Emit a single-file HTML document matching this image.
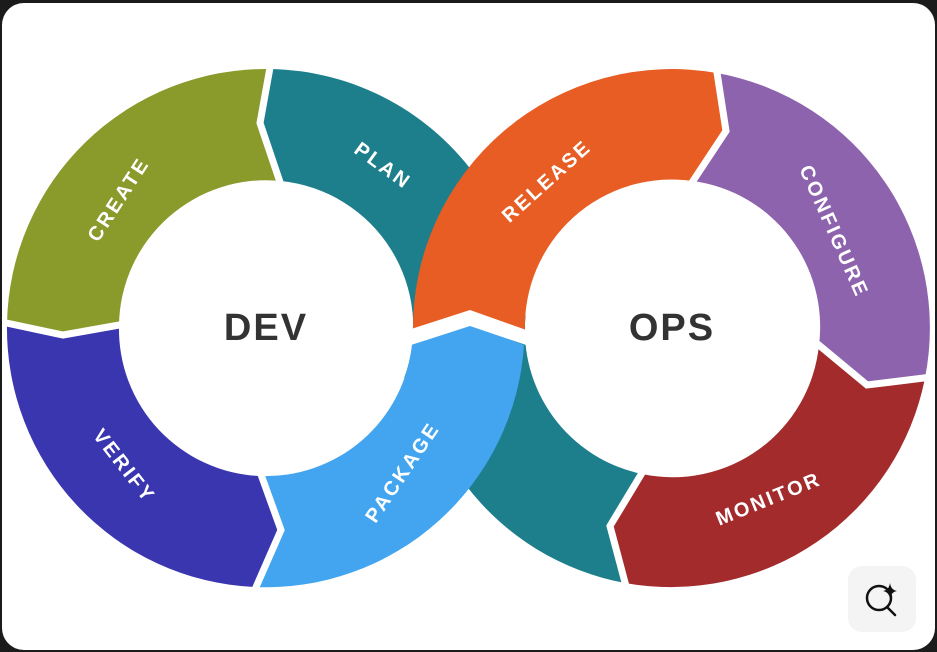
<!DOCTYPE html>
<html><head><meta charset="utf-8"><style>
html,body{margin:0;padding:0;background:#1b1b1b;width:937px;height:652px;overflow:hidden}
.card{position:absolute;left:2px;top:3px;width:933px;height:647px;background:#fff;border-radius:22px}
svg{position:absolute;left:0;top:0}
text{font-family:"Liberation Sans","DejaVu Sans",sans-serif;font-weight:bold}
</style></head><body>
<div class="card"></div>
<svg width="937" height="652" viewBox="0 0 937 652">
<path d="M270,69 A259,259 0 0 1 509.4,416.6 L404.1,378.3 A147,147 0 0 0 281,181 L260,123 Z" fill="#1e7f8c"/>
<path d="M625,583 A259,259 0 0 1 414,305 L525.6,315.2 A147,147 0 0 0 642,474 L610,526 Z" fill="#1e7f8c"/>
<path d="M7,323.5 A259,259 0 0 1 270,69 L260,123 L281,181 A147,147 0 0 0 119,325.4 L63,335 Z" fill="#8a9b2b"/>
<path d="M7,323.5 A259,259 0 0 0 254,587 L281,530 L260,476 A147,147 0 0 1 119,325.4 L63,335 Z" fill="#3a36b0"/>
<path d="M254,587 A259,259 0 0 0 524,345 L470,324 L412,345 A147,147 0 0 1 260,476 L281,530 Z" fill="#43a5f0"/>
<path d="M413,332 A259,259 0 0 1 717,73 L726,131 L693,181 A147,147 0 0 0 525,332 L470,312 Z" fill="#e85d24"/>
<path d="M717,73 A259,259 0 0 1 925,378 L867,385 L819,345 A147,147 0 0 0 693,181 L726,131 Z" fill="#8e63ad"/>
<path d="M925,378 A259,259 0 0 1 625,583 L610,526 L642,474 A147,147 0 0 0 819,345 L867,385 Z" fill="#a32b2c"/>
<g fill="none" stroke="#fff" stroke-width="7" stroke-linejoin="miter">
<polyline points="4,322.5 63,335 125,324"/>
<polyline points="271,62 260,123 282,188"/>
<polyline points="253,594 281,530 259,469"/>
<polyline points="716,66 726,131 689,187"/>
<polyline points="932,377 867,385 814,341"/>
<polyline points="627,590 610,526 645,468"/>
</g>
<polygon points="405,331 470,310 532,332 532,347 470,326 405,347" fill="#fff"/>
<g fill="#fff" font-size="20" letter-spacing="2.5" text-anchor="middle">
<text transform="translate(124,203) rotate(-57)">CREATE</text>
<text transform="translate(379,171) rotate(36)">PLAN</text>
<text transform="translate(119,470) rotate(52)">VERIFY</text>
<text transform="translate(408,476) rotate(-56)">PACKAGE</text>
<text transform="translate(551,186) rotate(-42)">RELEASE</text>
<text transform="translate(828,234) rotate(66)">CONFIGURE</text>
<text transform="translate(771,505) rotate(-22)">MONITOR</text>
</g>
<g fill="#333" font-size="38" letter-spacing="2" text-anchor="middle">
<text x="266" y="340">DEV</text>
<text x="672" y="340">OPS</text>
</g>
<rect x="848" y="566" width="68" height="66" rx="14" fill="#f4f4f4"/>
<circle cx="879" cy="598" r="12" fill="none" stroke="#111" stroke-width="2.5"/>
<line x1="887" y1="607" x2="895" y2="615" stroke="#111" stroke-width="2.5" stroke-linecap="round"/>
<path d="M890,583 Q891,590 897,591 Q891,592 890,599 Q889,592 883,591 Q889,590 890,583 Z" fill="#111"/>
</svg>
</body></html>
